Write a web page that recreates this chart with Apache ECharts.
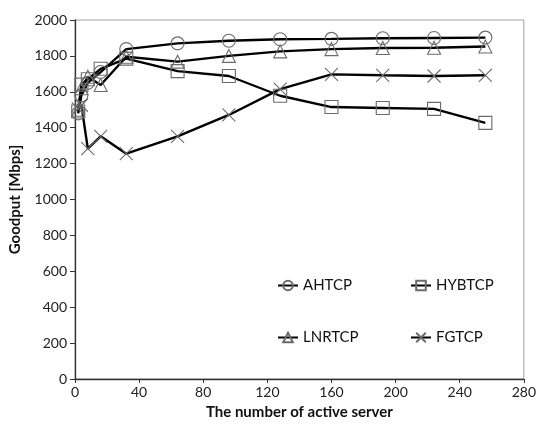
<!DOCTYPE html>
<html>
<head>
<meta charset="UTF-8">
<title>Goodput</title>
<script src="https://cdn.jsdelivr.net/npm/echarts@6/dist/echarts.min.js"></script>
<style>
	html,body{margin:0;padding:0;background:#fff;}
	#chart{width:539px;height:425px;}
</style>
</head>
<body>
<div id="chart"></div>
<script>
	var servers = [2, 4, 8, 16, 32, 64, 96, 128, 160, 192, 224, 256];
	var ahtcp  = [1480, 1580, 1650, 1710, 1838, 1870, 1884, 1893, 1895, 1898, 1900, 1902];
	var hybtcp = [1490, 1640, 1670, 1728, 1785, 1715, 1688, 1578, 1515, 1510, 1505, 1427];
	var lnrtcp = [1500, 1620, 1684, 1638, 1795, 1768, 1800, 1825, 1838, 1844, 1845, 1852];
	var fgtcp  = [1505, 1525, 1283, 1352, 1255, 1352, 1471, 1615, 1697, 1692, 1688, 1692];
	var xTicks = [0, 40, 80, 120, 160, 200, 240, 280];
	var yTicks = [0, 200, 400, 600, 800, 1000, 1200, 1400, 1600, 1800, 2000];

	var font = "Lato";
	var markerColor = "#6b6b6b";
	var crossPath = "path://M0,0L10,10M10,0L0,10";

	function pairs(ys){
		var out = [];
		for(var i=0;i<servers.length;i++){
			out.push([servers[i], ys[i]]);
		}
		return out;
	}

	function makeSeries(name, ys, symbol){
		return {
			name: name,
			type: "line",
			data: pairs(ys),
			symbol: symbol,
			symbolSize: 13,
			showAllSymbol: true,
			lineStyle: {color: "#000", width: 2.4},
			itemStyle: {color: "rgba(0,0,0,0)", borderColor: markerColor, borderWidth: 1.1},
			emphasis: {disabled: true},
			z: 3
		};
	}

	var myChart = echarts.init(document.getElementById("chart"));
	var legendBase = {
		orient: "vertical",
		itemWidth: 20,
		itemHeight: 12,
		itemGap: 37,
		textStyle: {fontFamily: font, fontSize: 15, color: "#111"},
		selectedMode: false
	};
	var option = {
		animation: false,
		grid: {
			left: 73, right: 10, top: 20, bottom: 42,
			show: true, borderColor: "#a0a0a0", borderWidth: 1
		},
		legend: [
			Object.assign({}, legendBase, {left: 272, top: 273, data: ["AHTCP", "LNRTCP"]}),
			Object.assign({}, legendBase, {left: 405, top: 273, data: ["HYBTCP", "FGTCP"]})
		],
		xAxis: {
			type: "value",
			min: xTicks[0],
			max: xTicks[xTicks.length - 1],
			interval: xTicks[1] - xTicks[0],
			name: "The number of active server",
			nameLocation: "middle",
			nameGap: 26,
			nameTextStyle: {fontFamily: font, fontSize: 15, fontWeight: "bold", color: "#111"},
			axisLine: {lineStyle: {color: "#333", width: 1.3}},
			axisTick: {show: true, length: 4, lineStyle: {color: "#333"}},
			axisLabel: {fontFamily: font, fontSize: 14, color: "#222", margin: 6, formatter: function(v){ return String(v); }},
			splitLine: {show: false}
		},
		yAxis: {
			type: "value",
			min: yTicks[0],
			max: yTicks[yTicks.length - 1],
			interval: yTicks[1] - yTicks[0],
			name: "Goodput [Mbps]",
			nameLocation: "middle",
			nameGap: 52,
			nameTextStyle: {fontFamily: font, fontSize: 15, fontWeight: "bold", color: "#111"},
			axisLine: {show: true, lineStyle: {color: "#333", width: 1.3}},
			axisTick: {show: true, length: 5, lineStyle: {color: "#333"}},
			axisLabel: {fontFamily: font, fontSize: 14, color: "#222", margin: 8, formatter: function(v){ return String(v); }},
			splitLine: {show: false}
		},
		series: [
			makeSeries("AHTCP", ahtcp, "circle"),
			makeSeries("HYBTCP", hybtcp, "rect"),
			makeSeries("LNRTCP", lnrtcp, "triangle"),
			makeSeries("FGTCP", fgtcp, crossPath)
		]
	};
	myChart.setOption(option);
</script>
</body>
</html>
